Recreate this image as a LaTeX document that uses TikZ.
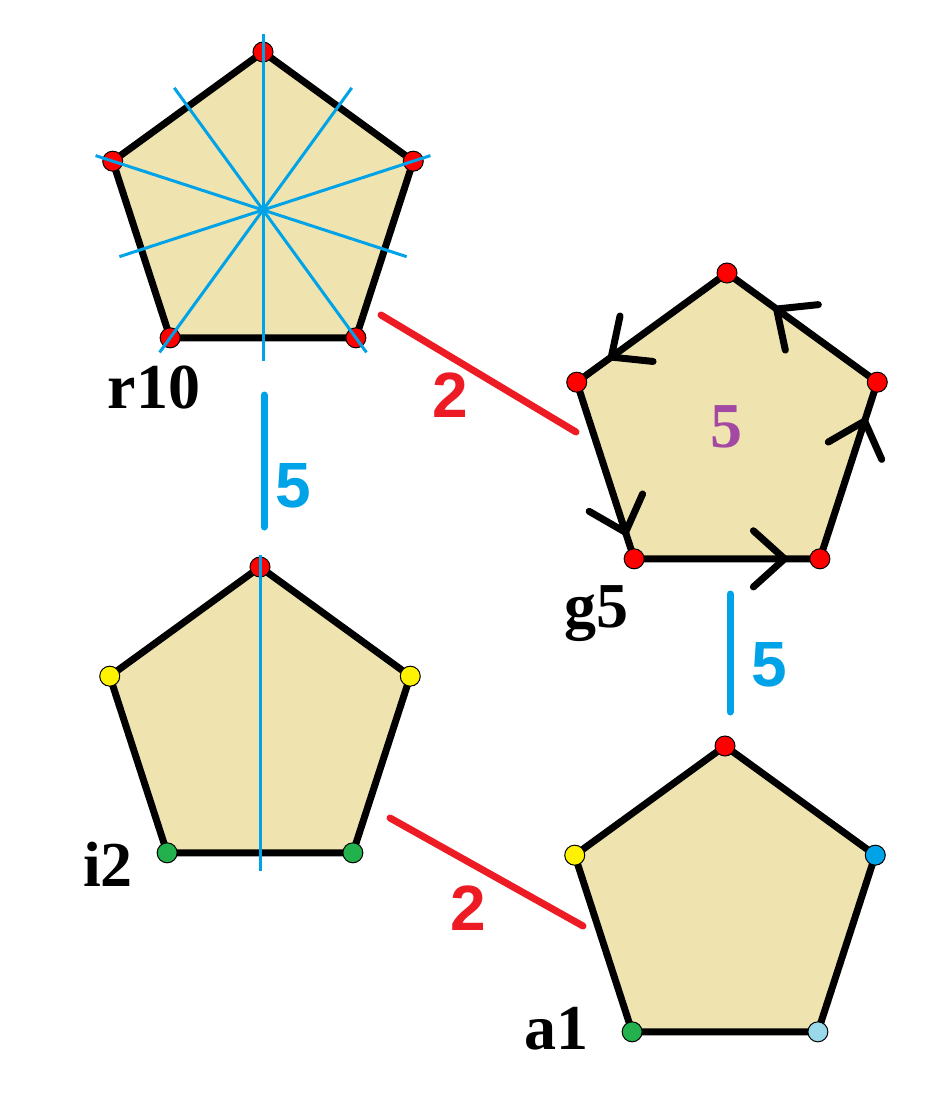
\documentclass[tikz,border=0pt]{standalone}
\usepackage{fontspec}
\setmainfont{Liberation Serif}
\newfontfamily\numfont{Liberation Sans}
\usetikzlibrary{calc}
\definecolor{tanfill}{HTML}{EFE4B0}
\definecolor{conred}{HTML}{ED1C24}
\definecolor{symblue}{HTML}{00A2E8}
\definecolor{purp}{HTML}{A349A4}
\definecolor{dotred}{HTML}{FF0000}
\definecolor{dotyellow}{HTML}{FFF200}
\definecolor{dotgreen}{HTML}{22B14C}
\definecolor{dotblue}{HTML}{00A2E8}
\definecolor{dotlblue}{HTML}{99D9EA}
\newcommand\mkpent[2]{%
  \coordinate (#1c) at (#2);
  \foreach \k in {0,...,4}{\coordinate (#1v\k) at ($(#1c)+(270+72*\k:158)$);}
  \draw[pent] (#1v0) -- (#1v1) -- (#1v2) -- (#1v3) -- (#1v4) -- cycle;
}
\newcommand\mkarrow[4]{%
  \coordinate (#1) at ($(#2)!#4!(#3)$);
  \draw[arm] ($(#1)!42pt!138:(#3)$) -- (#1) -- ($(#1)!42pt!-138:(#3)$);
}
\begin{document}
\begin{tikzpicture}[x=1pt,y=-1pt,
  pent/.style={draw=black, line width=7pt, fill=tanfill, line join=miter},
  vdot/.style={circle, draw=black, line width=1pt, minimum size=20pt, inner sep=0pt},
  symline/.style={draw=symblue, line width=3pt},
  redcon/.style={draw=conred, line width=7pt, line cap=round},
  bluecon/.style={draw=symblue, line width=7pt, line cap=round},
  lbl/.style={font=\fontsize{64}{70}\selectfont\bfseries, anchor=base, inner sep=0pt},
  num/.style={font=\numfont\fontsize{64}{70}\selectfont\bfseries, inner sep=0pt},
  arm/.style={draw=black, line width=7pt, line cap=round, line join=round}]
\useasboundingbox (0,0) rectangle (951,1107);
\fill[white] (0,0) rectangle (951,1107);

% pentagons
\mkpent{r}{263,210}
\mkpent{g}{727,431}
\mkpent{i}{260,725}
\mkpent{a}{725,904}

% arrows on g5
\mkarrow{ga1}{gv3}{gv2}{0.81}
\mkarrow{ga2}{gv2}{gv1}{0.78}
\mkarrow{ga3}{gv1}{gv0}{0.67}
\mkarrow{ga4}{gv0}{gv4}{0.77}
\mkarrow{ga5}{gv4}{gv3}{0.85}

% dots
\foreach \k in {0,...,4}{
  \node[vdot, fill=dotred] (rd\k) at (rv\k) {};
  \node[vdot, fill=dotred] (gd\k) at (gv\k) {};
}
\node[vdot, fill=dotred] (id0) at (iv0) {};
\node[vdot, fill=dotyellow] (id1) at (iv1) {};
\node[vdot, fill=dotgreen] (id2) at (iv2) {};
\node[vdot, fill=dotgreen] (id3) at (iv3) {};
\node[vdot, fill=dotyellow] (id4) at (iv4) {};
\node[vdot, fill=dotred] (ad0) at (av0) {};
\node[vdot, fill=dotblue] (ad1) at (av1) {};
\node[vdot, fill=dotlblue] (ad2) at (av2) {};
\node[vdot, fill=dotgreen] (ad3) at (av3) {};
\node[vdot, fill=dotyellow] (ad4) at (av4) {};

% symmetry lines
\foreach \k in {0,...,4}{
  \draw[symline] ($(rc)+(270+72*\k:176)$) -- ($(rc)+(90+72*\k:151)$);
}
\draw[symline] ($(ic)+(270:170)$) -- ($(ic)+(90:146)$);

% labels
\node[lbl] (r10lab) at (154,408) {r10};
\node[lbl] (g5lab) at (596,627) {g5};
\node[lbl] (i2lab) at (108,886) {i2};
\node[lbl] (a1lab) at (556,1049) {a1};
\node[font=\fontsize{64}{70}\selectfont\bfseries, inner sep=0pt, text=purp] (g5num) at (726,427) {5};

% connectors
\coordinate (c1a) at (381,315);
\coordinate (c1b) at (576,432);
\draw[redcon] (c1a) -- (c1b);
\node[num, text=conred] (c1lab) at (450,395) {2};
\coordinate (c2a) at (390,818);
\coordinate (c2b) at (583,926);
\draw[redcon] (c2a) -- (c2b);
\node[num, text=conred] (c2lab) at (468,908) {2};
\coordinate (c3a) at (264,395);
\coordinate (c3b) at (264,527);
\draw[bluecon] (c3a) -- (c3b);
\node[num, text=symblue] (c3lab) at (293,486) {5};
\coordinate (c4a) at (730,594);
\coordinate (c4b) at (730,712);
\draw[bluecon] (c4a) -- (c4b);
\node[num, text=symblue] (c4lab) at (769,665) {5};
\end{tikzpicture}
\end{document}
